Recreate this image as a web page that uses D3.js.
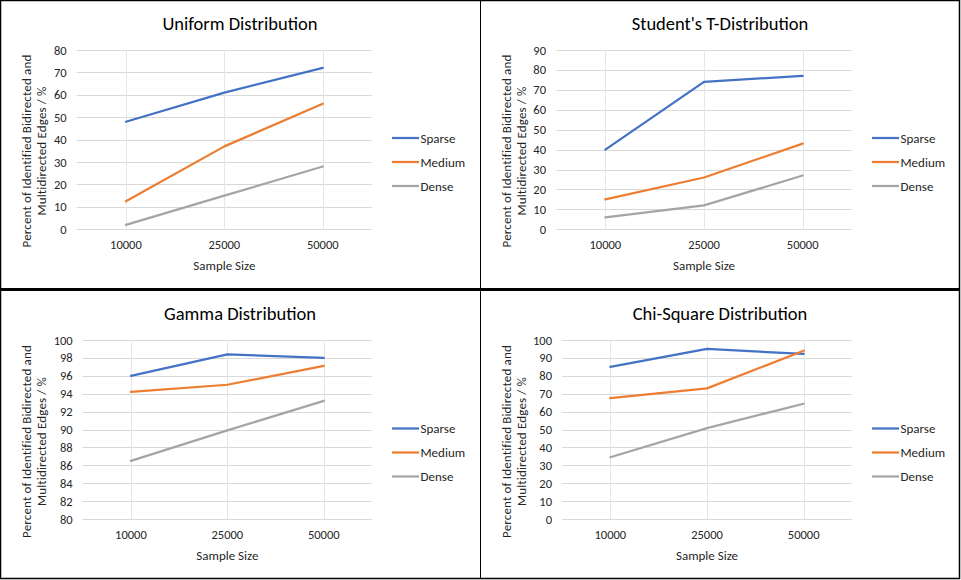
<!DOCTYPE html>
<html>
<head>
<meta charset="utf-8">
<script src="https://cdn.jsdelivr.net/npm/d3@7"></script>
<style>
  body { margin: 0; background: #fff; }
  svg { display: block; font-family: Carlito, Lato, "Open Sans", sans-serif; }
</style>
</head>
<body>
<div id="chart"></div>
<script>
// chart data
const categories = ['10000', '25000', '50000'];
const seriesNames = ['Sparse', 'Medium', 'Dense'];
const seriesColors = ['#4472C4', '#ED7D31', '#A5A5A5'];

const uniformSparse = [48, 61, 72];
const uniformMedium = [12.5, 37, 56];
const uniformDense = [2, 15, 28];

const studentSparse = [40, 74, 77];
const studentMedium = [15, 26, 43];
const studentDense = [6, 12, 27];

const gammaSparse = [96, 98.4, 98];
const gammaMedium = [94.2, 95, 97.1];
const gammaDense = [86.5, 89.9, 93.2];

const chiSparse = [85, 95, 92.2];
const chiMedium = [67.5, 73, 94];
const chiDense = [34.5, 50.8, 64.4];

const uniformTicks = [0, 10, 20, 30, 40, 50, 60, 70, 80];
const studentTicks = [0, 10, 20, 30, 40, 50, 60, 70, 80, 90];
const gammaTicks = [80, 82, 84, 86, 88, 90, 92, 94, 96, 98, 100];
const chiTicks = [0, 10, 20, 30, 40, 50, 60, 70, 80, 90, 100];

const titles = ['Uniform Distribution', "Student's T-Distribution", 'Gamma Distribution', 'Chi-Square Distribution'];
const yTitleLines = ['Percent of Identified Bidirected and', 'Multidirected Edges / %'];
const xTitle = 'Sample Size';

const w = 961;
const h = 580;

const svg = d3.select('#chart')
  .append('svg')
  .attr('width', w)
  .attr('height', h);

const panels = [
  { x: 0, y: 0, title: titles[0], ticks: uniformTicks, series: [uniformSparse, uniformMedium, uniformDense], left: 76.7, top: 50, bottom: 229.3 },
  { x: 480, y: 0, title: titles[1], ticks: studentTicks, series: [studentSparse, studentMedium, studentDense], left: 76, top: 50, bottom: 229.3 },
  { x: 0, y: 289, title: titles[2], ticks: gammaTicks, series: [gammaSparse, gammaMedium, gammaDense], left: 82.7, top: 51, bottom: 230 },
  { x: 480, y: 289, title: titles[3], ticks: chiTicks, series: [chiSparse, chiMedium, chiDense], left: 82, top: 51, bottom: 230 }
];

panels.forEach((p, i) => {
  const g = svg.append('g').attr('transform', 'translate(' + p.x + ',' + p.y + ')');
  const right = 372;
  const bottomRow = i >= 2 ? 1.5 : 0;

  const xScale = d3.scaleBand()
    .domain(categories)
    .range([p.left, right]);

  const yScale = d3.scaleLinear()
    .domain([p.ticks[0], p.ticks[p.ticks.length - 1]])
    .range([p.bottom, p.top]);

  // horizontal gridlines
  g.selectAll('.hgrid')
    .data(p.ticks)
    .enter()
    .append('line')
    .attr('x1', p.left)
    .attr('x2', right)
    .attr('y1', d => Math.round(yScale(d)) + 0.5)
    .attr('y2', d => Math.round(yScale(d)) + 0.5)
    .attr('stroke', '#D9D9D9')
    .attr('stroke-width', 1);

  // vertical gridlines at category centres
  g.selectAll('.vgrid')
    .data(categories)
    .enter()
    .append('line')
    .attr('x1', d => Math.round(xScale(d) + xScale.bandwidth() / 2) + 0.5)
    .attr('x2', d => Math.round(xScale(d) + xScale.bandwidth() / 2) + 0.5)
    .attr('y1', p.top)
    .attr('y2', p.bottom)
    .attr('stroke', '#E6E6E6')
    .attr('stroke-width', 1);

  // y tick labels
  g.selectAll('.ylab')
    .data(p.ticks)
    .enter()
    .append('text')
    .attr('x', p.left - 10)
    .attr('y', d => yScale(d))
    .attr('text-anchor', 'end')
    .attr('dominant-baseline', 'central')
    .style('font-size', '12.5px')
    .style('fill', '#262626')
    .text(d => d);

  // x tick labels
  g.selectAll('.xlab')
    .data(categories)
    .enter()
    .append('text')
    .attr('x', d => xScale(d) + xScale.bandwidth() / 2)
    .attr('y', 244 + bottomRow)
    .attr('text-anchor', 'middle')
    .attr('dominant-baseline', 'central')
    .style('font-size', '12.5px')
    .style('fill', '#262626')
    .text(d => d);

  // lines
  const line = d3.line()
    .x((d, j) => xScale(categories[j]) + xScale.bandwidth() / 2)
    .y(d => yScale(d));

  p.series.forEach((s, k) => {
    g.append('path')
      .datum(s)
      .attr('d', line)
      .attr('fill', 'none')
      .attr('stroke', seriesColors[k])
      .attr('stroke-width', 2.25)
      .attr('stroke-linejoin', 'round')
      .attr('stroke-linecap', 'round');
  });

  // title
  g.append('text')
    .attr('x', 240)
    .attr('y', 23 + bottomRow)
    .attr('text-anchor', 'middle')
    .attr('dominant-baseline', 'central')
    .style('font-size', '18.5px')
    .style('fill', '#000')
    .text(p.title);

  // axis titles
  g.append('text')
    .attr('x', (p.left + right) / 2)
    .attr('y', 265 + bottomRow)
    .attr('text-anchor', 'middle')
    .attr('dominant-baseline', 'central')
    .style('font-size', '13px')
    .style('fill', '#262626')
    .text(xTitle);

  yTitleLines.forEach((t, k) => {
    g.append('text')
      .attr('transform', 'translate(' + (26 + k * 15.7) + ',' + (151 + bottomRow) + ') rotate(-90)')
      .attr('text-anchor', 'middle')
      .attr('dominant-baseline', 'central')
      .style('font-size', '13px')
      .style('letter-spacing', '0.15px')
      .style('fill', '#262626')
      .text(t);
  });

  // legend
  const legend = g.selectAll('.legend')
    .data(seriesNames)
    .enter()
    .append('g')
    .attr('transform', (d, k) => 'translate(392,' + (138 + bottomRow + k * 24) + ')');

  legend.append('line')
    .attr('x1', 0)
    .attr('x2', 27)
    .attr('stroke', (d, k) => seriesColors[k])
    .attr('stroke-width', 2.25);

  legend.append('text')
    .attr('x', 28.5)
    .attr('dominant-baseline', 'central')
    .style('font-size', '13px')
    .style('fill', '#262626')
    .text(d => d);
});

// panel borders
svg.append('rect')
  .attr('x', 0.5).attr('y', 0.5)
  .attr('width', 959).attr('height', 578)
  .attr('fill', 'none').attr('stroke', '#000').attr('stroke-width', 1.5);
svg.append('line')
  .attr('x1', 480.5).attr('x2', 480.5)
  .attr('y1', 0).attr('y2', 579)
  .attr('stroke', '#000').attr('stroke-width', 1);
svg.append('line')
  .attr('x1', 0).attr('x2', 960)
  .attr('y1', 289.5).attr('y2', 289.5)
  .attr('stroke', '#000').attr('stroke-width', 3);
</script>
</body>
</html>
